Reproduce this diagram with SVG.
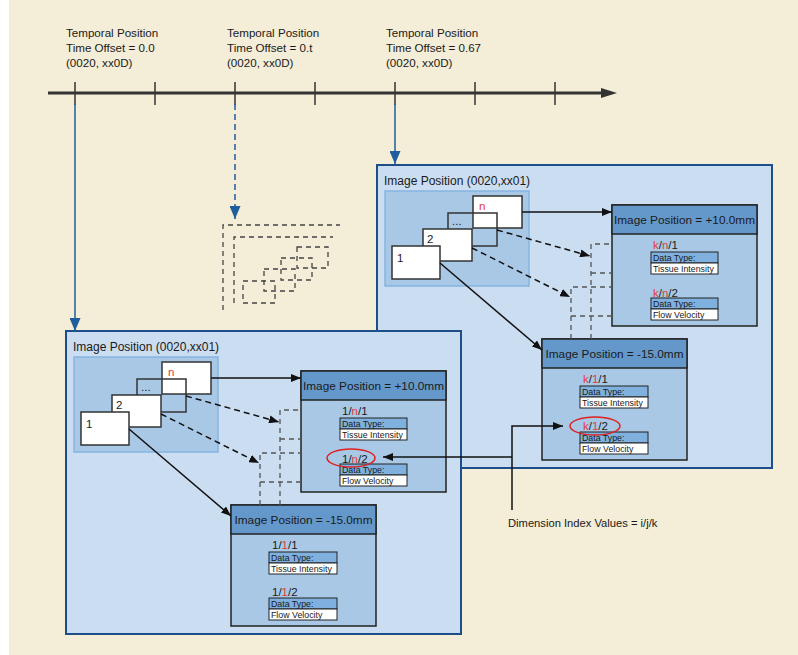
<svg xmlns="http://www.w3.org/2000/svg" width="798" height="655" viewBox="0 0 798 655">
<defs>
<style>
text{font-family:"Liberation Sans",Arial,sans-serif;fill:#1a1a1a}
.top{font-size:11.6px}
.plabel{font-size:12px}
.hdr{font-size:11.8px;text-anchor:middle}
.sub{font-size:11.5px}
.dt{font-size:8.8px}
.red{fill:#e8383c}
.panel{fill:#cbddf0;stroke:#1d4e8a;stroke-width:2}
.stack{fill:#a9c8e6;stroke:#86b4e0;stroke-width:1.5}
.img{fill:#fff;stroke:#333;stroke-width:1.5}
.imgo{fill:none;stroke:#333;stroke-width:1.5}
.box{fill:#a8c8e6;stroke:#222;stroke-width:1.5}
.bh{fill:#6598ca;stroke:#222;stroke-width:1.5}
.dth{fill:#80b0dd;stroke:#222;stroke-width:1}
.dtb{fill:#fff;stroke:#222;stroke-width:1}
.ell{fill:none;stroke:#e02020;stroke-width:1.5}
.solid{fill:none;stroke:#111;stroke-width:1.5}
.dash{fill:none;stroke:#111;stroke-width:1.5;stroke-dasharray:6 4}
.gdash{fill:none;stroke:#555;stroke-width:1.3;stroke-dasharray:5 4}
.blue{fill:none;stroke:#1f5e9e;stroke-width:1.5}
.ghost{fill:none;stroke:#444;stroke-width:1.3;stroke-dasharray:5 4}
</style>
<marker id="ah" markerUnits="userSpaceOnUse" markerWidth="10" markerHeight="8" refX="10" refY="4" orient="auto"><path d="M0,0 L10,4 L0,8 z" fill="#111"/></marker>
<marker id="bh" markerUnits="userSpaceOnUse" markerWidth="13" markerHeight="11" refX="13" refY="5.5" orient="auto"><path d="M0,0 L13,5.5 L0,11 z" fill="#1f5e9e"/></marker>
</defs>
<rect x="0" y="0" width="798" height="655" fill="#fff"/>
<rect x="9" y="0" width="789" height="655" fill="#f4edd7"/>

<g id="timeline">
<line x1="48" y1="93" x2="604" y2="93" stroke="#333" stroke-width="3"/>
<polygon points="601,88 617,93 601,98" fill="#333"/>
<g stroke="#333" stroke-width="1.5">
<line x1="75" y1="82" x2="75" y2="105"/><line x1="155" y1="82" x2="155" y2="105"/><line x1="235" y1="82" x2="235" y2="105"/><line x1="315" y1="82" x2="315" y2="105"/><line x1="395" y1="82" x2="395" y2="105"/><line x1="475" y1="82" x2="475" y2="105"/><line x1="555" y1="82" x2="555" y2="105"/>
</g>
<text class="top" x="66" y="37">Temporal Position</text>
<text class="top" x="66" y="52">Time Offset = 0.0</text>
<text class="top" x="66" y="67">(0020, xx0D)</text>
<text class="top" x="227" y="37">Temporal Position</text>
<text class="top" x="227" y="52">Time Offset = 0.t</text>
<text class="top" x="227" y="67">(0020, xx0D)</text>
<text class="top" x="386" y="37">Temporal Position</text>
<text class="top" x="386" y="52">Time Offset = 0.67</text>
<text class="top" x="386" y="67">(0020, xx0D)</text>
</g>

<g id="ghost-frame">
<path class="ghost" d="M223,310 V225 H340"/>
<path class="ghost" d="M234,303 V237 H333"/>
<rect class="ghost" x="297" y="247" width="31" height="21"/>
<rect class="ghost" x="281" y="258" width="31" height="22"/>
<rect class="ghost" x="264" y="269" width="31" height="22"/>
<rect class="ghost" x="243" y="281" width="32" height="22"/>
</g>

<!-- Right panel (t = 0.67) -->
<g id="panel-right">
<rect class="panel" x="377" y="165" width="395" height="303"/>
<text class="plabel" x="384" y="185">Image Position (0020,xx01)</text>
</g>
<g id="stack-right">
<rect class="stack" x="385" y="191" width="144" height="95"/>
<rect class="img" x="473" y="196" width="49" height="32"/>
<rect class="imgo" x="448" y="213" width="49" height="33"/>
<rect class="img" x="423" y="229" width="49" height="32"/>
<rect class="img" x="392" y="246" width="48" height="33"/>
<text class="sub red" x="479" y="210">n</text>
<text class="sub" x="452" y="225">...</text>
<text class="sub" x="427" y="243">2</text>
<text class="sub" x="397" y="262">1</text>
</g>
<g id="box-right-p10">
<rect class="box" x="612" y="205" width="145" height="121"/>
<rect class="bh" x="612" y="205" width="145" height="29"/>
<text class="hdr" x="684.5" y="224">Image Position = +10.0mm</text>
<text class="sub" x="653" y="249"><tspan class="red">k</tspan>/<tspan class="red">n</tspan>/1</text>
<rect class="dth" x="651" y="252" width="67" height="11"/><rect class="dtb" x="651" y="263" width="67" height="11"/>
<text class="dt" x="653" y="261">Data Type:</text><text class="dt" x="653" y="272">Tissue Intensity</text>
<text class="sub" x="653" y="297"><tspan class="red">k</tspan>/<tspan class="red">n</tspan>/2</text>
<rect class="dth" x="651" y="298" width="67" height="11"/><rect class="dtb" x="651" y="309" width="67" height="11"/>
<text class="dt" x="653" y="307">Data Type:</text><text class="dt" x="653" y="318">Flow Velocity</text>
</g>
<g id="box-right-m15">
<rect class="box" x="542" y="339" width="145" height="121"/>
<rect class="bh" x="542" y="339" width="145" height="29"/>
<text class="hdr" x="614.5" y="358">Image Position = -15.0mm</text>
<text class="sub" x="583" y="383"><tspan class="red">k</tspan>/<tspan class="red">1</tspan>/1</text>
<rect class="dth" x="580" y="386" width="68" height="11"/><rect class="dtb" x="580" y="397" width="68" height="11"/>
<text class="dt" x="582" y="395">Data Type:</text><text class="dt" x="582" y="406">Tissue Intensity</text>
<text class="sub" x="583" y="430"><tspan class="red">k</tspan>/<tspan class="red">1</tspan>/2</text>
<rect class="dth" x="580" y="432" width="68" height="11"/><rect class="dtb" x="580" y="443" width="68" height="11"/>
<text class="dt" x="582" y="441">Data Type:</text><text class="dt" x="582" y="452">Flow Velocity</text>
<ellipse class="ell" cx="595" cy="426" rx="25" ry="9"/>
</g>
<g id="connectors-right">
<line class="solid" x1="522" y1="212" x2="612" y2="212" marker-end="url(#ah)"/>
<line class="dash" x1="497" y1="230" x2="590" y2="256" marker-end="url(#ah)"/>
<line class="dash" x1="472" y1="248" x2="570" y2="297" marker-end="url(#ah)"/>
<line class="solid" x1="440" y1="263" x2="542" y2="350" marker-end="url(#ah)"/>
<path class="gdash" d="M591,339 V244 H612 M591,273 H612 M571,339 V287 H612 M571,316 H612"/>
</g>

<!-- Left panel (t = 0.0) -->
<g transform="translate(-311,166)">
<g id="panel-left">
<rect class="panel" x="377" y="165" width="395" height="303"/>
<text class="plabel" x="384" y="185">Image Position (0020,xx01)</text>
</g>
<g id="stack-left">
<rect class="stack" x="385" y="191" width="144" height="95"/>
<rect class="img" x="473" y="196" width="49" height="32"/>
<rect class="imgo" x="448" y="213" width="49" height="33"/>
<rect class="img" x="423" y="229" width="49" height="32"/>
<rect class="img" x="392" y="246" width="48" height="33"/>
<text class="sub red" x="479" y="210">n</text>
<text class="sub" x="452" y="225">...</text>
<text class="sub" x="427" y="243">2</text>
<text class="sub" x="397" y="262">1</text>
</g>
<g id="box-left-p10">
<rect class="box" x="612" y="205" width="145" height="121"/>
<rect class="bh" x="612" y="205" width="145" height="29"/>
<text class="hdr" x="684.5" y="224">Image Position = +10.0mm</text>
<text class="sub" x="653" y="249">1/<tspan class="red">n</tspan>/1</text>
<rect class="dth" x="651" y="252" width="67" height="11"/><rect class="dtb" x="651" y="263" width="67" height="11"/>
<text class="dt" x="653" y="261">Data Type:</text><text class="dt" x="653" y="272">Tissue Intensity</text>
<text class="sub" x="653" y="297">1/<tspan class="red">n</tspan>/2</text>
<rect class="dth" x="651" y="298" width="67" height="11"/><rect class="dtb" x="651" y="309" width="67" height="11"/>
<text class="dt" x="653" y="307">Data Type:</text><text class="dt" x="653" y="318">Flow Velocity</text>
<ellipse class="ell" cx="662" cy="292" rx="24" ry="9"/>
</g>
<g id="box-left-m15">
<rect class="box" x="542" y="339" width="145" height="121"/>
<rect class="bh" x="542" y="339" width="145" height="29"/>
<text class="hdr" x="614.5" y="358">Image Position = -15.0mm</text>
<text class="sub" x="583" y="383">1/<tspan class="red">1</tspan>/1</text>
<rect class="dth" x="580" y="386" width="68" height="11"/><rect class="dtb" x="580" y="397" width="68" height="11"/>
<text class="dt" x="582" y="395">Data Type:</text><text class="dt" x="582" y="406">Tissue Intensity</text>
<text class="sub" x="583" y="430">1/<tspan class="red">1</tspan>/2</text>
<rect class="dth" x="580" y="432" width="68" height="11"/><rect class="dtb" x="580" y="443" width="68" height="11"/>
<text class="dt" x="582" y="441">Data Type:</text><text class="dt" x="582" y="452">Flow Velocity</text>
</g>
<g id="connectors-left">
<line class="solid" x1="522" y1="212" x2="612" y2="212" marker-end="url(#ah)"/>
<line class="dash" x1="497" y1="230" x2="590" y2="256" marker-end="url(#ah)"/>
<line class="dash" x1="472" y1="248" x2="570" y2="297" marker-end="url(#ah)"/>
<line class="solid" x1="440" y1="263" x2="542" y2="350" marker-end="url(#ah)"/>
<path class="gdash" d="M591,339 V244 H612 M591,273 H612 M571,339 V287 H612 M571,316 H612"/>
</g>
</g>

<g id="connectors">
<line class="blue" x1="75" y1="104" x2="75" y2="331" marker-end="url(#bh)"/>
<line class="blue" x1="235" y1="104" x2="235" y2="219" stroke-dasharray="6 4" marker-end="url(#bh)"/>
<line class="blue" x1="395" y1="104" x2="395" y2="164" marker-end="url(#bh)"/>
<path class="solid" d="M512,510 V426 H563" stroke-width="1.3" marker-end="url(#ah)"/>
<path class="solid" d="M512,457 H383" stroke-width="1.3" marker-end="url(#ah)"/>
</g>
<text id="dim-label" x="508" y="527" style="font-size:11.2px">Dimension Index Values = i/j/k</text>
</svg>
